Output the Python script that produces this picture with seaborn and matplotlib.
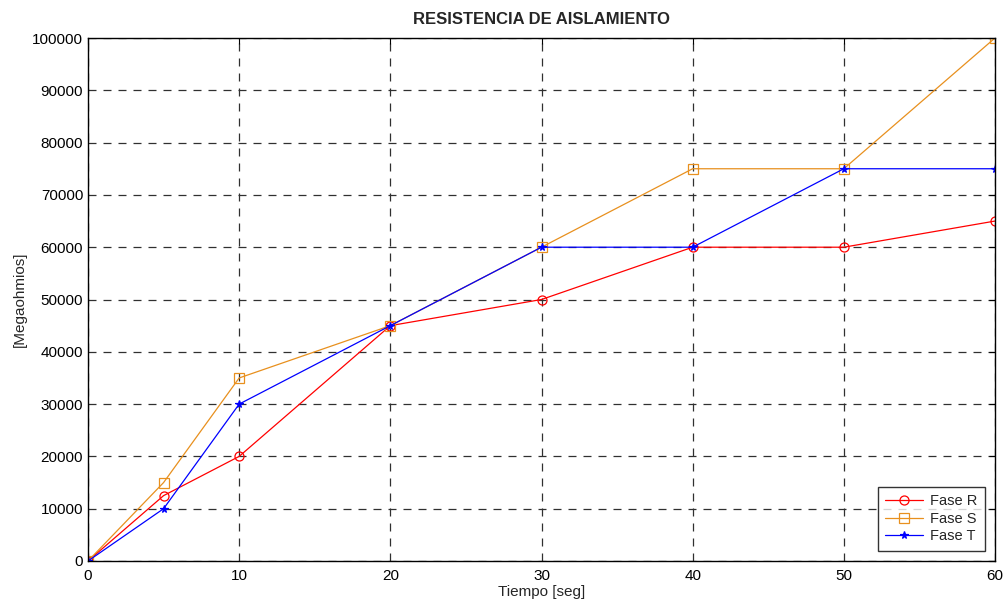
import matplotlib
matplotlib.use("Agg")
import matplotlib.pyplot as plt
import seaborn as sns
import pandas as pd

tiempo = [0, 5, 10, 20, 30, 40, 50, 60]
fase_r = [0, 12500, 20000, 45000, 50000, 60000, 60000, 65000]
fase_s = [0, 15000, 35000, 45000, 60000, 75000, 75000, 100000]
fase_t = [0, 10000, 30000, 45000, 60000, 60000, 75000, 75000]

series = [
    ("Fase R", fase_r, "#FF0000", "o"),
    ("Fase S", fase_s, "#E8901E", "s"),
    ("Fase T", fase_t, "#0000FF", "*"),
]

sns.set_style("white")
plt.rcParams["font.family"] = ["Liberation Sans", "DejaVu Sans"]

fig = plt.figure(figsize=(10.05, 6.02), dpi=100)
ax = fig.add_axes([88 / 1005, 1 - 561 / 602, (995 - 88) / 1005, (561 - 38) / 602])

for name, vals, color, marker in series:
    df = pd.DataFrame({"t": tiempo, "v": vals})
    sns.lineplot(data=df, x="t", y="v", ax=ax, color=color, marker=marker,
                 markersize=6.5 if marker != "*" else 5.5,
                 markerfacecolor="none" if marker != "*" else color,
                 markeredgecolor=color, markeredgewidth=0.9,
                 linewidth=0.9, label=name)

ax.set_xlim(0, 60)
ax.set_ylim(0, 100000)
ax.set_xticks(range(0, 61, 10))
ax.set_yticks(range(0, 100001, 10000))
ax.grid(True, color="#303030", linestyle=(0, (6.4, 5.6)), linewidth=0.9)
for s in ax.spines.values():
    s.set_color("black")
    s.set_linewidth(1.0)
ax.tick_params(direction="in", length=4, top=True, right=True,
               labelsize=11, colors="black")
ax.tick_params(axis="x", pad=6)
ax.set_title("RESISTENCIA DE AISLAMIENTO", fontsize=12, fontweight="bold", pad=10)
ax.set_xlabel("Tiempo [seg]", fontsize=11, labelpad=1)
ax.set_ylabel("[Megaohmios]", fontsize=11)

leg = ax.legend(loc="lower right", fontsize=10.5, frameon=True, fancybox=False,
                edgecolor="black", borderaxespad=0.7, handlelength=2.6,
                handletextpad=0.5, labelspacing=0.25, borderpad=0.5)
leg.get_frame().set_linewidth(1.0)

fig.savefig("out.png", dpi=100)
